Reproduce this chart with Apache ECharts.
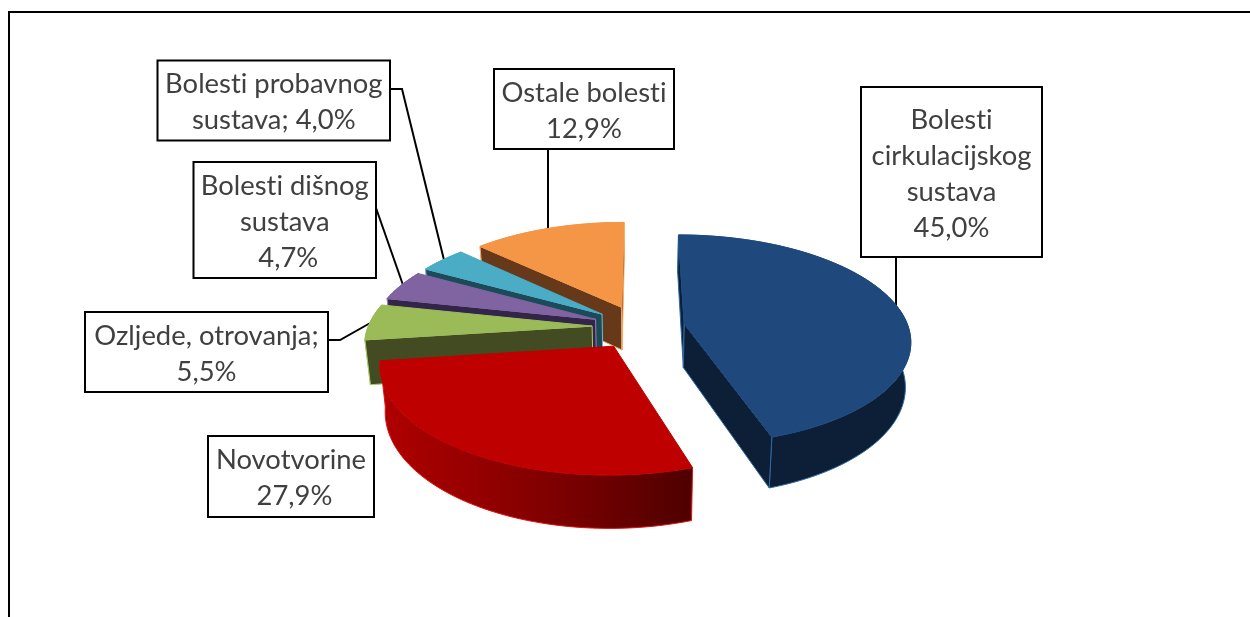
<!DOCTYPE html>
<html>
<head>
<meta charset="utf-8">
<style>
  html, body { margin: 0; padding: 0; background: #fff; }
  #main { width: 1250px; height: 617px; }
</style>
<script src="https://cdn.jsdelivr.net/npm/echarts@6/dist/echarts.min.js"></script>
</head>
<body>
<div id="main"></div>
<script>
// slices run clockwise from 12 o'clock
const categories = [
  'Bolesti cirkulacijskog sustava',
  'Novotvorine',
  'Ozljede, otrovanja',
  'Bolesti dišnog sustava',
  'Bolesti probavnog sustava',
  'Ostale bolesti'
];
const values = [45.0, 27.9, 5.5, 4.7, 4.0, 12.9];
const labelTemplates = [
  'Bolesti\ncirkulacijskog\nsustava\n{v}',
  'Novotvorine\n {v}',
  'Ozljede, otrovanja;\n{v}',
  'Bolesti dišnog\nsustava\n {v}',
  'Bolesti probavnog\nsustava; {v}',
  'Ostale bolesti\n{v}'
];

const topColors = ['#1f497d', '#bf0000', '#9bbb59', '#8064a2', '#4bacc6', '#f59647'];
const wallColors = ['#0c1f36', '#8a0000', '#434b22', '#33254a', '#1c4a58', '#66391a'];
const edgeColors = ['#2f6aa3', '#e01010', '#aecb6e', '#9a80bb', '#66c0d8', '#fbaa66'];

// painter's order, back to front
const drawOrder = [5, 4, 3, 2, 1, 0];

// pie geometry
const cx = 640, cy = 327;
const R = 224;
const explodes = [45, 48, 48, 48, 48, 48];
const squash = 0.46, persp = 0.15;
const depth = 44, bottomScale = 0.98;

const total = values.reduce((a, b) => a + b, 0);
const startAngles = [];
values.reduce((acc, v, i) => {
  startAngles[i] = acc;
  return acc + v / total * 360;
}, 0);

function rad(d) { return d * Math.PI / 180; }

function point(i, r, deg, bottom) {
  const mid = rad(startAngles[i] + values[i] / total * 180);
  const X = explodes[i] * Math.sin(mid) + r * Math.sin(rad(deg));
  const Y = explodes[i] * Math.cos(mid) + r * Math.cos(rad(deg));
  const w = 1 + persp * Y / R;
  const sx = cx + X / w;
  const sy = cy - Y * squash / w;
  if (!bottom) return [sx, sy];
  return [cx + (sx - cx) * bottomScale, sy + depth / w];
}

function arc(i, bottom) {
  const a0 = startAngles[i];
  const a1 = a0 + values[i] / total * 360;
  const pts = [];
  const n = Math.max(6, Math.ceil((a1 - a0) / 2));
  for (let k = 0; k <= n; k++) {
    pts.push(point(i, R, a0 + (a1 - a0) * k / n, bottom));
  }
  return pts;
}

function poly(points, fill, stroke, width) {
  return {
    type: 'polygon',
    shape: { points: points },
    style: { fill: fill, stroke: stroke, lineWidth: width === undefined ? 1 : width, lineJoin: 'round' }
  };
}

function signedArea(pts) {
  let s = 0;
  pts.forEach((p, k) => {
    const q = pts[(k + 1) % pts.length];
    s += p[0] * q[1] - q[0] * p[1];
  });
  return s;
}

function renderSlice(params, api) {
  const i = api.value(0);
  const a0 = startAngles[i];
  const a1 = a0 + values[i] / total * 360;
  const apexT = point(i, 0, 0, false);
  const apexB = point(i, 0, 0, true);
  const top = arc(i, false);
  const bot = arc(i, true);
  let wallFill = wallColors[i];
  if (i === 1) {
    wallFill = new echarts.graphic.LinearGradient(0, 0, 1, 0, [
      { offset: 0, color: '#b00000' },
      { offset: 0.5, color: '#840000' },
      { offset: 1, color: '#4e0000' }
    ]);
  }
  const children = [poly(top.concat(bot.slice().reverse()), wallFill, edgeColors[i])];
  // only the cut faces turned towards the viewer get drawn
  const startFace = [apexT, point(i, R, a0, false), point(i, R, a0, true), apexB];
  const endFace = [apexT, point(i, R, a1, false), point(i, R, a1, true), apexB];
  if (signedArea(startFace) < 0) children.push(poly(startFace, wallColors[i], edgeColors[i]));
  if (signedArea(endFace) > 0) children.push(poly(endFace, wallColors[i], edgeColors[i]));
  children.push(poly([apexT].concat(top), topColors[i], topColors[i]));
  return { type: 'group', children: children };
}

// label boxes [x, y, w, h]
const boxes = [
  [861, 87, 181, 170],
  [208, 436, 166, 81],
  [85, 312, 243, 80],
  [193.5, 162, 182.5, 116],
  [157.5, 60.5, 232.5, 80],
  [494, 69, 180, 80]
];
const leaders = [
  [[896, 257], [896, 308]],
  null,
  [[328, 340], [340, 340], [372, 322]],
  [[376, 208], [403, 285]],
  [[390, 89], [402, 89], [444, 260]],
  [[548, 149], [548, 229]]
];

const elements = [
  { type: 'polyline', shape: { points: [[9, 617], [9, 12], [1250, 12]] }, style: { stroke: '#000', lineWidth: 2, fill: null } }
];
categories.forEach((c, i) => {
  const b = boxes[i];
  if (leaders[i]) {
    elements.push({ type: 'polyline', shape: { points: leaders[i] }, style: { stroke: '#000', lineWidth: 2, fill: null } });
  }
  elements.push({ type: 'rect', shape: { x: b[0], y: b[1], width: b[2], height: b[3] }, style: { fill: '#fff', stroke: '#000', lineWidth: 2 } });
  elements.push({
    type: 'text',
    x: b[0] + b[2] / 2,
    y: b[1] + b[3] / 2 + 2,
    style: {
      text: labelTemplates[i].replace('{v}', values[i].toFixed(1).replace('.', ',') + '%'),
      fill: '#404040',
      font: '27.4px Lato',
      align: 'center',
      verticalAlign: 'middle',
      lineHeight: 36
    }
  });
});

// Lato's "ti" ligature is not in the reference, this switches ligatures off
const fillText = CanvasRenderingContext2D.prototype.fillText;
CanvasRenderingContext2D.prototype.fillText = function () {
  this.textRendering = 'optimizeSpeed';
  return fillText.apply(this, arguments);
};

const chart = echarts.init(document.getElementById('main'));
chart.setOption({
  animation: false,
  backgroundColor: '#fff',
  graphic: { elements: elements },
  series: [{
    type: 'custom',
    coordinateSystem: 'none',
    silent: true,
    z: 5,
    renderItem: renderSlice,
    data: drawOrder.map(i => [i, values[i]])
  }]
});
</script>
</body>
</html>
